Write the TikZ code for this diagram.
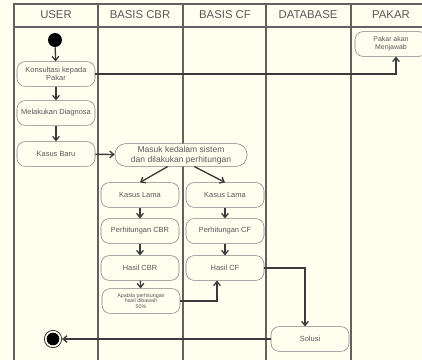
\documentclass[tikz,border=0pt]{standalone}
\usepackage{fontspec}
\setmainfont{Liberation Sans}
\usetikzlibrary{arrows.meta}
\definecolor{paper}{HTML}{FFFFF0}
\definecolor{ink}{HTML}{3A3A3A}
\begin{document}
\begin{tikzpicture}[x=0.75pt,y=-0.75pt,
  act/.style={draw=ink!65,fill=paper,rounded corners=6pt,minimum width=58.5pt,minimum height=18.5pt,
    inner sep=1pt,align=center,text=ink!85,font=\fontsize{5.6}{6.4}\selectfont},
  lane/.style={font=\fontsize{8.5}{10}\selectfont,text=ink!85},
  arr/.style={draw=ink,line width=1pt,-{Straight Barb[length=3pt,width=5pt]}}]
\useasboundingbox (0,0) rectangle (422,360);
\fill[paper] (0,0) rectangle (422,360);
\draw[ink!80,line width=0.8pt] (14,4) rectangle (432,372);
\draw[ink!80,line width=0.8pt] (14,27)--(432,27);
\foreach \x in {98,183,266,351} \draw[ink!80,line width=0.8pt] (\x,4)--(\x,372);

\node[lane] (u) at (56,15) {USER};
\node[lane] (c) at (140,15) {BASIS CBR};
\node[lane] (f) at (225,15) {BASIS CF};
\node[lane] (db) at (308,15) {DATABASE};
\node[lane] (pk) at (391,15) {PAKAR};

\node[circle,fill=black,minimum size=10.5pt,inner sep=0] (st) at (55,40) {};
\node[act] (k) at (56,74) {Konsultasi kepada\\Pakar};
\node[act] (d) at (56,113) {Melakukan Diagnosa};
\node[act] (b) at (56,154) {Kasus Baru};
\node[act,minimum width=99pt,minimum height=17pt,rounded corners=8pt,font=\fontsize{6.4}{7.4}\selectfont] (m) at (181,155) {Masuk kedalam sistem\\dan dilakukan perhitungan};
\node[act] (l1) at (140,195) {Kasus Lama};
\node[act] (l2) at (225,195) {Kasus Lama};
\node[act] (p1) at (140,231) {Perhitungan CBR};
\node[act] (p2) at (225,231) {Perhitungan CF};
\node[act] (h1) at (140,268) {Hasil CBR};
\node[act] (h2) at (225,268) {Hasil CF};
\node[act,font=\fontsize{4}{4.4}\selectfont] (a) at (141,301) {Apabila perhitungan\\hasil dibawah\\50\%};
\node[act] (s) at (310,339) {Solusi};
\node[act,minimum width=54pt,font=\fontsize{5.2}{6}\selectfont] (j) at (391,44) {Pakar akan\\Menjawab};
\node[circle,draw=ink,line width=0.6pt,minimum size=13pt,inner sep=0] (e) at (53,339) {};
\node[circle,fill=black,minimum size=9.5pt,inner sep=0] at (e) {};

\draw[arr] (st)--(k);
\draw[arr] (k)--(d);
\draw[arr] (d)--(b);
\draw[arr] (b)--(m);
\draw[arr] (m.221)--(l1.north);
\draw[arr] (m.319)--(l2.north);
\draw[arr] (l1)--(p1);
\draw[arr] (p1)--(h1);
\draw[arr] (h1)--(a);
\draw[arr] (l2)--(p2);
\draw[arr] (p2)--(h2);
\draw[arr] (a.east)-|([xshift=-6pt]h2.south);
\draw[arr] (h2.east)-|([xshift=-3.75pt]s.north);
\draw[arr] (s.west)--(e);
\draw[arr] (k.east)-|([xshift=3.75pt]j.south);
\end{tikzpicture}
\end{document}
